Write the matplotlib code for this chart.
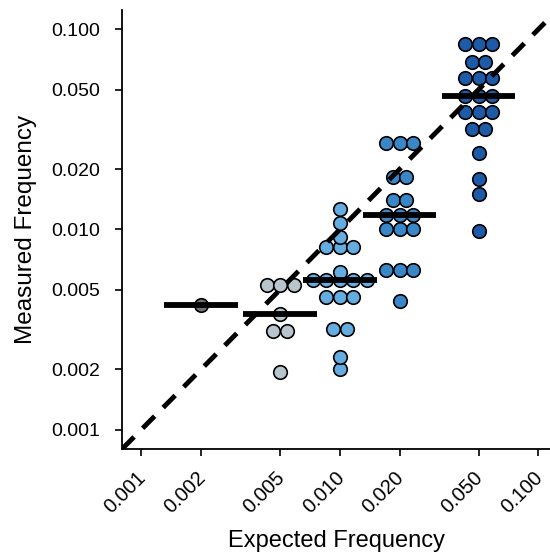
import numpy as np
import matplotlib.pyplot as plt
from matplotlib.ticker import FixedLocator, FixedFormatter, NullLocator
from matplotlib.transforms import ScaledTranslation

plt.rcParams['font.family'] = ['Liberation Sans', 'DejaVu Sans']

expected = [0.002, 0.005, 0.010, 0.020, 0.050]

meas_002 = [0.0042]
meas_005 = [0.0053, 0.0053, 0.0053, 0.0038, 0.0031, 0.0031, 0.00195]
meas_010 = [0.0127, 0.0108, 0.0092, 0.0082, 0.0082, 0.0082, 0.0061,
            0.0056, 0.0056, 0.0056, 0.0056, 0.0056, 0.0046, 0.0046,
            0.0046, 0.0032, 0.0032, 0.0023, 0.0020]
meas_020 = [0.0269, 0.0269, 0.0269, 0.0183, 0.0183, 0.0140, 0.0140,
            0.0118, 0.0118, 0.0118, 0.0100, 0.0100, 0.0100, 0.0063,
            0.0063, 0.0063, 0.0044]
meas_050 = [0.0841, 0.0841, 0.0841, 0.0690, 0.0690, 0.0569, 0.0569,
            0.0569, 0.0464, 0.0464, 0.0464, 0.0386, 0.0386, 0.0386,
            0.0319, 0.0319, 0.0242, 0.0179, 0.0151, 0.0098]
measured = [meas_002, meas_005, meas_010, meas_020, meas_050]

colors = ['#6d7378', '#b9c5cd', '#65ace0', '#3a87c8', '#1d5aa8']

ticks = [0.001, 0.002, 0.005, 0.010, 0.020, 0.050, 0.100]
tick_labels = ['%.3f' % t for t in ticks]

fig = plt.figure(figsize=(5.5, 5.55), dpi=100)
ax = fig.add_axes([0.222, 0.191, 0.778, 0.791])

step = 0.068      # swarm spacing in decades
half_bar = 0.186  # half width of median bar in decades

for x0, vals, c in zip(expected, measured, colors):
    vals = np.array(vals)
    xs = []
    ys = []
    for v in np.unique(vals):
        n = int(np.sum(vals == v))
        offs = (np.arange(n) - (n - 1) / 2) * step
        xs += list(x0 * 10 ** offs)
        ys += [v] * n
    ax.scatter(xs, ys, s=95, color=c, edgecolor='black', linewidth=1.2,
               zorder=2, clip_on=False)
    med = np.median(vals)
    ax.plot([x0 * 10 ** -half_bar, x0 * 10 ** half_bar], [med, med],
            color='black', linewidth=4.2, solid_capstyle='butt', zorder=3)

lo, hi = 0.0008, 0.2
ax.plot([lo, hi], [lo, hi], color='black', linewidth=3.5,
        linestyle=(0, (3.5, 2.5)), zorder=4)

ax.set_xscale('log')
ax.set_yscale('log')
ax.set_xlim(0.0008, 0.1146)
ax.set_ylim(0.0008, 0.125)

for axis in (ax.xaxis, ax.yaxis):
    axis.set_major_locator(FixedLocator(ticks))
    axis.set_major_formatter(FixedFormatter(tick_labels))
    axis.set_minor_locator(NullLocator())

ax.spines['top'].set_visible(False)
ax.spines['right'].set_visible(False)
ax.spines['left'].set_linewidth(1.3)
ax.spines['bottom'].set_linewidth(1.3)
ax.tick_params(axis='both', which='major', length=5, width=1.2,
               direction='out')
ax.tick_params(axis='y', pad=11, labelsize=14)
ax.tick_params(axis='x', pad=9, labelsize=14.5)
# nudge the rotated labels a little left so the last one fits
shift = ScaledTranslation(-5 / 100, 0, fig.dpi_scale_trans)
for lab in ax.get_xticklabels():
    lab.set_rotation(45)
    lab.set_ha('right')
    lab.set_rotation_mode('anchor')
    lab.set_transform(lab.get_transform() + shift)

ax.set_xlabel('Expected Frequency', fontsize=17, labelpad=9)
ax.set_ylabel('Measured Frequency', fontsize=17.5, labelpad=10)

fig.savefig('out.png', dpi=100)
